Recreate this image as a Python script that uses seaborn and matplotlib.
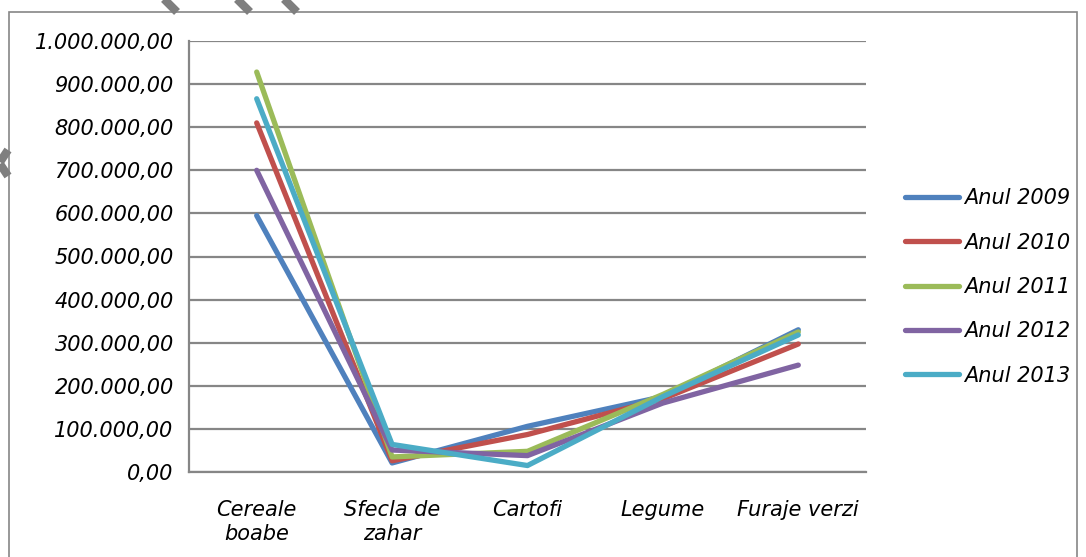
import pandas as pd
import numpy as np
import matplotlib
matplotlib.use("Agg")
import matplotlib.pyplot as plt
import seaborn as sns
from matplotlib.lines import Line2D

# data
categories = ["Cereale\nboabe", "Sfecla de\nzahar", "Cartofi", "Legume", "Furaje verzi"]
years = ["Anul 2009", "Anul 2010", "Anul 2011", "Anul 2012", "Anul 2013"]
anul_2009 = [595000, 21000, 106000, 175000, 330000]
anul_2010 = [810000, 26000, 87000, 170000, 297000]
anul_2011 = [928000, 35000, 48000, 180000, 325000]
anul_2012 = [700000, 51000, 38000, 160000, 248000]
anul_2013 = [866000, 64000, 15000, 175000, 318000]
colors = ["#4F81BD", "#C0504D", "#9BBB59", "#8064A2", "#4BACC6"]
yticks = [0, 100000, 200000, 300000, 400000, 500000, 600000, 700000, 800000, 900000, 1000000]

series = [anul_2009, anul_2010, anul_2011, anul_2012, anul_2013]
rows = []
for year, vals in zip(years, series):
    for i, v in enumerate(vals):
        rows.append({"pos": i, "value": v, "year": year})
df = pd.DataFrame(rows)

sns.set_style("white")
plt.rcParams['font.family'] = ['DejaVu Sans']
plt.rcParams['text.color'] = 'black'

fig = plt.figure(figsize=(10.86, 5.57), dpi=100)
ax = fig.add_axes([189 / 1086, 1 - 472 / 557, (866 - 189) / 1086, (472 - 41) / 557])

sns.lineplot(data=df, x="pos", y="value", hue="year", palette=colors,
             linewidth=3.8, solid_capstyle="round", legend=False, ax=ax, zorder=3)

ax.set_xlim(-0.5, len(categories) - 0.5)
ax.set_ylim(0, 1000000)
ax.set_yticks(yticks)

def fmt(v):
    s = f"{v:,.2f}"
    return s.replace(",", "X").replace(".", ",").replace("X", ".")

ax.set_yticklabels([fmt(v) for v in yticks], fontsize=15, style="italic")
ax.set_xticks(range(len(categories)))
ax.set_xticklabels(categories, fontsize=15, style="italic", linespacing=1.25)
ax.set_xticks(np.arange(-0.5, len(categories), 1.0), minor=True)
ax.tick_params(axis="x", which="major", length=0, pad=20, labelcolor="black")
ax.tick_params(axis="x", which="minor", length=8, width=1.5, color="#868686", direction="out")
ax.tick_params(axis="y", length=7, width=1.5, color="#868686", direction="out", pad=4,
               labelcolor="black")
ax.set_xlabel("")
ax.set_ylabel("")

ax.yaxis.grid(True, color="#868686", linewidth=1.6)
ax.set_axisbelow(True)
for side in ["top", "right"]:
    ax.spines[side].set_visible(False)
for side in ["left", "bottom"]:
    ax.spines[side].set_color("#868686")
    ax.spines[side].set_linewidth(1.6)

handles = [Line2D([0], [0], color=c, linewidth=3.8, solid_capstyle="round") for c in colors]
leg = fig.legend(handles, years, loc="center left", bbox_to_anchor=(905 / 1086, 1 - 287 / 557),
                 frameon=False, prop={"style": "italic", "size": 15},
                 handlelength=2.6, handletextpad=0.25, labelspacing=1.17,
                 borderpad=0, borderaxespad=0)
for t in leg.get_texts():
    t.set_color("black")

# chart area border
fig.add_artist(plt.Rectangle((9 / 1086, -0.1), 1 - 18 / 1086, 1.1 - 12 / 557,
                             transform=fig.transFigure, fill=False,
                             edgecolor="#868686", linewidth=1.2))

# gray diagonal scan marks around the top-left corner
for (x0, y0, x1, y1) in [(162, -3, 177, 12), (235, -3, 250, 12), (282, -3, 297, 12),
                         (8, 150, 0, 162), (0, 164, 8, 176)]:
    fig.add_artist(Line2D([x0 / 1086, x1 / 1086], [1 - y0 / 557, 1 - y1 / 557],
                          transform=fig.transFigure, color="#7f7f7f", linewidth=6,
                          solid_capstyle="butt"))

fig.savefig("out.png", dpi=100)
